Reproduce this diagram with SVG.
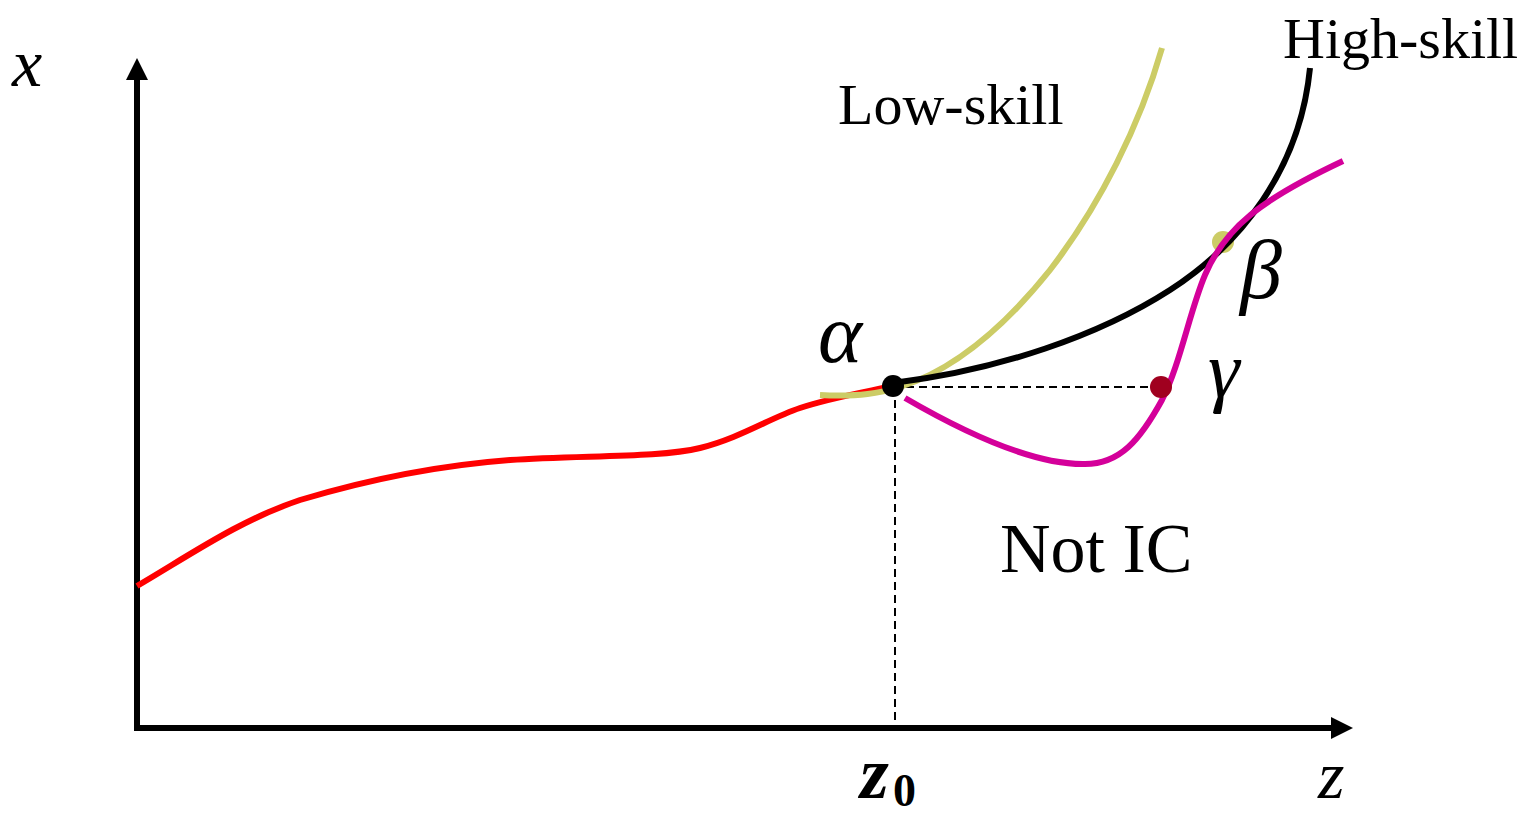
<svg xmlns="http://www.w3.org/2000/svg" width="1528" height="816" viewBox="0 0 1528 816">
<style>
.t{font-family:"Liberation Serif","Times New Roman",serif;fill:#000}
.i{font-style:italic}
.c{fill:none;stroke-width:6;stroke-linecap:butt}
.d{fill:none;stroke:#000;stroke-width:2;stroke-dasharray:8,5}
</style>
<rect width="1528" height="816" fill="#fff"/>
<g id="axes">
<path d="M137,730 V78" stroke="#000" stroke-width="6" fill="none"/>
<path d="M126,80 L137,58 L148,80 z" fill="#000"/>
<path d="M134,728 H1333" stroke="#000" stroke-width="6" fill="none"/>
<path d="M1331,717 L1353,728 L1331,739 z" fill="#000"/>
</g>
<g id="connectors">
<path class="d" d="M893,387 H1161"/>
<path class="d" d="M895,387 V727"/>
<circle id="beta-dot" cx="1223" cy="242" r="11" fill="#cccc66"/>
<path class="c" stroke="#ff0000" d="M137,586 C190,555 240,520 300,500 C360,482 430,466 510,460 C580,455 660,458 700,448 C740,438 770,418 800,408 C830,398 860,393 893,386"/>
<path class="c" stroke="#cccc66" d="M820,395 C860,397 880,393 900,387 C960,368 1010,320 1050,270 C1100,205 1140,125 1162,48"/>
<path class="c" stroke="#000" d="M893,383 C1000,370 1100,335 1170,290 C1240,245 1300,170 1310,68"/>
<path class="c" stroke="#d4009a" d="M905,398 C960,430 1030,465 1085,464 C1120,464 1140,440 1162,400 C1180,365 1190,310 1205,275 C1225,228 1260,200 1343,161"/>
</g>
<g id="alpha-dot"><circle cx="893" cy="386" r="11" fill="#000"/></g>
<g id="gamma-dot"><circle cx="1161" cy="387" r="11" fill="#a0001f"/></g>
<g id="labels">
<text class="t i" x="12" y="86" font-size="68">x</text>
<text class="t" x="1283" y="58" font-size="58">High-skill</text>
<text class="t" x="838" y="124" font-size="58">Low-skill</text>
<text class="t i" x="818" y="362" font-size="84">α</text>
<text class="t i" x="1240" y="298" font-size="84">β</text>
<text class="t i" x="1208" y="397" font-size="80">γ</text>
<text class="t" x="1000" y="572" font-size="70">Not IC</text>
<text class="t i" x="860" y="798" font-size="74" font-weight="bold">z</text>
<text class="t" x="893" y="806" font-size="46" font-weight="bold">0</text>
<text class="t i" x="1318" y="798" font-size="68">z</text>
</g>
</svg>
